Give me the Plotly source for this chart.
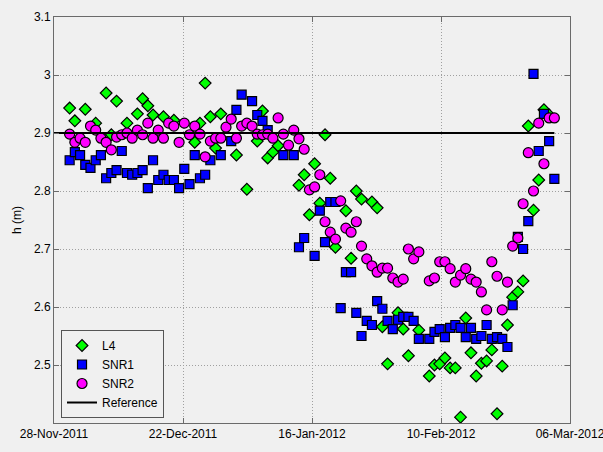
import pandas as pd
import plotly.graph_objects as go

# Time axis runs from 28-Nov-2011 to 06-Mar-2012; samples are daily.
start = pd.Timestamp("2011-11-28")
end = pd.Timestamp("2012-03-06")

# L4 retrievals: day offset after 28-Nov-2011 and height h (m)
l4_day = [3, 4, 6, 8, 10, 11, 12, 14, 16, 17, 18, 19, 21, 23, 27, 28, 29, 30, 31, 32,
          35, 37, 39, 40, 41, 42, 43, 47, 48, 49, 50, 51, 52, 53, 54, 56, 57, 58, 59, 61,
          62, 63, 64, 66, 67, 68, 70, 72, 73, 74, 75, 76, 77, 78, 79, 80, 81, 82, 83, 84,
          85, 86, 87, 88, 89, 90, 91, 92, 93, 94, 95]
l4_h = [2.943, 2.921, 2.941, 2.917, 2.969, 2.897, 2.955, 2.917, 2.933, 2.959, 2.947, 2.931,
        2.928, 2.922, 2.884, 2.917, 2.986, 2.928, 2.874, 2.933, 2.862, 2.803, 2.886, 2.938,
        2.857, 2.867, 2.878, 2.810, 2.828, 2.759, 2.847, 2.779, 2.897, 2.822, 2.703, 2.766,
        2.684, 2.800, 2.786, 2.781, 2.771, 2.566, 2.502, 2.590, 2.562, 2.516, 2.560, 2.481,
        2.500, 2.502, 2.512, 2.495, 2.495, 2.410, 2.581, 2.521, 2.481, 2.503, 2.507, 2.526,
        2.416, 2.498, 2.569, 2.617, 2.626, 2.645, 2.912, 2.767, 2.819, 2.940, 2.931]

# SNR1 retrievals
snr1_day = [3, 4, 5, 6, 7, 8, 9, 10, 11, 12, 13, 14, 15, 16, 17, 18, 19, 20, 21, 22, 23,
            24, 25, 26, 27, 28, 29, 30, 32, 34, 35, 36, 38, 39, 40, 41, 44, 46, 47, 48, 50,
            51, 52, 53, 54, 55, 56, 57, 58, 59, 60, 61, 62, 63, 64, 65, 66, 67, 68, 69, 70,
            72, 73, 74, 75, 76, 77, 78, 79, 80, 81, 82, 83, 84, 85, 86, 87, 88, 89, 90, 91,
            92, 93, 94, 95, 96]
snr1_h = [2.853, 2.867, 2.862, 2.845, 2.840, 2.853, 2.862, 2.822, 2.831, 2.836, 2.869, 2.831,
          2.828, 2.831, 2.836, 2.805, 2.853, 2.819, 2.828, 2.819, 2.819, 2.805, 2.838, 2.812,
          2.862, 2.822, 2.828, 2.853, 2.862, 2.886, 2.940, 2.966, 2.955, 2.931, 2.921, 2.905,
          2.862, 2.862, 2.703, 2.719, 2.688, 2.766, 2.712, 2.781, 2.781, 2.598, 2.660, 2.660,
          2.590, 2.550, 2.576, 2.569, 2.610, 2.597, 2.576, 2.562, 2.578, 2.583, 2.583, 2.576,
          2.545, 2.545, 2.557, 2.562, 2.548, 2.564, 2.569, 2.564, 2.548, 2.564, 2.545, 2.550,
          2.569, 2.545, 2.548, 2.545, 2.531, 2.603, 2.721, 2.700, 2.748, 3.002, 2.869, 2.933,
          2.886, 2.821]

# SNR2 retrievals
snr2_day = [3, 4, 5, 6, 7, 8, 9, 10, 11, 12, 13, 14, 15, 16, 17, 18, 19, 20, 21, 22, 23,
            24, 25, 26, 27, 28, 29, 30, 31, 32, 33, 34, 35, 36, 37, 38, 39, 40, 41, 42, 43,
            44, 45, 46, 47, 48, 49, 50, 51, 52, 53, 54, 55, 56, 57, 58, 59, 60, 61, 62, 63,
            64, 65, 66, 67, 68, 69, 70, 72, 73, 74, 75, 76, 77, 78, 79, 80, 81, 82, 83, 84,
            85, 86, 87, 88, 89, 90, 91, 92, 93, 94, 95, 96]
snr2_h = [2.898, 2.884, 2.891, 2.884, 2.912, 2.905, 2.891, 2.884, 2.871, 2.893, 2.897, 2.900,
          2.891, 2.905, 2.897, 2.917, 2.891, 2.905, 2.891, 2.917, 2.912, 2.884, 2.917, 2.897,
          2.912, 2.898, 2.859, 2.886, 2.891, 2.891, 2.910, 2.924, 2.891, 2.912, 2.917, 2.912,
          2.898, 2.897, 2.898, 2.891, 2.926, 2.898, 2.879, 2.905, 2.890, 2.872, 2.802, 2.807,
          2.828, 2.747, 2.729, 2.717, 2.783, 2.736, 2.729, 2.747, 2.705, 2.683, 2.671, 2.660,
          2.667, 2.667, 2.650, 2.643, 2.648, 2.700, 2.683, 2.695, 2.645, 2.650, 2.678, 2.678,
          2.666, 2.643, 2.655, 2.666, 2.648, 2.643, 2.626, 2.595, 2.678, 2.653, 2.595, 2.643,
          2.705, 2.719, 2.778, 2.866, 2.800, 2.917, 2.847, 2.926, 2.926]

# Reference height and the span it covers
ref_day = [0, 96]
ref_h = [2.9, 2.9]

x_labels = ["28-Nov-2011", "22-Dec-2011", "16-Jan-2012", "10-Feb-2012", "06-Mar-2012"]
y_ticks = [2.5, 2.6, 2.7, 2.8, 2.9, 3.0, 3.1]
y_labels = ["2.5", "2.6", "2.7", "2.8", "2.9", "3", "3.1"]


def to_dates(days):
    return [start + pd.Timedelta(days=d) for d in days]


# Five evenly spaced date ticks across the full span
x_tickvals = [start + i * (end - start) / 4 for i in range(5)]

FONT = "Liberation Sans, Arial, Helvetica, sans-serif"
AXIS_COLOR = "#6a6a6a"
GRID_COLOR = "#a0a0a0"
BG = "#f0f0f0"

fig = go.Figure()

fig.add_trace(go.Scatter(
    x=to_dates(l4_day), y=l4_h, mode="markers", name="L4",
    marker=dict(symbol="diamond", size=9, color="#00ff00",
                line=dict(color="black", width=1.2)),
))
fig.add_trace(go.Scatter(
    x=to_dates(snr1_day), y=snr1_h, mode="markers", name="SNR1",
    marker=dict(symbol="square", size=9, color="#0000ff",
                line=dict(color="black", width=1.2)),
))
fig.add_trace(go.Scatter(
    x=to_dates(snr2_day), y=snr2_h, mode="markers", name="SNR2",
    marker=dict(symbol="circle", size=10, color="#ff00ff",
                line=dict(color="black", width=1.2)),
))
fig.add_trace(go.Scatter(
    x=to_dates(ref_day), y=ref_h, mode="lines", name="Reference",
    line=dict(color="black", width=2),
))

fig.update_layout(
    width=603, height=452,
    margin=dict(l=54, r=33, t=17, b=29, autoexpand=False),
    paper_bgcolor=BG, plot_bgcolor=BG,
    font=dict(family=FONT, size=12, color="black"),
    showlegend=True,
    legend=dict(
        x=0.0136, y=0.0123, xanchor="left", yanchor="bottom",
        bgcolor=BG, bordercolor="#555555", borderwidth=1,
        font=dict(family=FONT, size=12, color="black"),
        tracegroupgap=0,
    ),
)

fig.update_xaxes(
    type="date",
    range=[start, end + pd.Timedelta(minutes=1)],
    tickmode="array", tickvals=x_tickvals, ticktext=x_labels,
    ticks="inside", ticklen=5, tickcolor=AXIS_COLOR,
    showline=True, linecolor=AXIS_COLOR, linewidth=1, mirror="ticks",
    showgrid=True, gridcolor=GRID_COLOR, griddash="1px,2px", gridwidth=1,
    zeroline=False, tickangle=0, ticklabeloverflow="allow",
    tickfont=dict(family=FONT, size=12, color="black"),
)

fig.update_yaxes(
    range=[2.4, 3.1],
    tickmode="array", tickvals=y_ticks, ticktext=y_labels,
    ticks="inside", ticklen=5, tickcolor=AXIS_COLOR,
    showline=True, linecolor=AXIS_COLOR, linewidth=1, mirror="ticks",
    showgrid=True, gridcolor=GRID_COLOR, griddash="1px,2px", gridwidth=1,
    zeroline=False, ticklabeloverflow="allow",
    tickfont=dict(family=FONT, size=12, color="black"),
    title=dict(text="h (m)", standoff=9,
               font=dict(family=FONT, size=12, color="black")),
)

fig.write_html("out.html")
